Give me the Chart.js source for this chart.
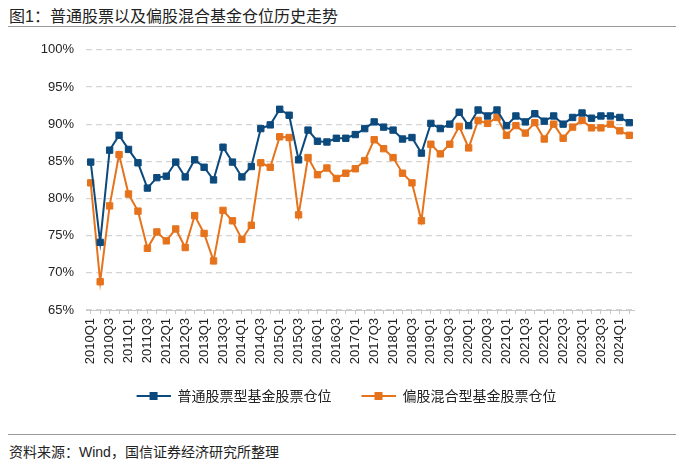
<!DOCTYPE html>
<html>
<head>
<meta charset="utf-8">
<script src="https://cdn.jsdelivr.net/npm/chart.js@4.4.1/dist/chart.umd.min.js"></script>
<style>
  body { margin: 0; background: #fff; width: 684px; height: 464px; position: relative; overflow: hidden;
         font-family: "Liberation Sans", "Noto Sans CJK SC", sans-serif; }
  #title { position: absolute; left: 9px; top: 3px; font-size: 16px; color: #222;
           font-family: "Liberation Sans", "Noto Sans CJK SC", sans-serif; }
  #topline { position: absolute; left: 8px; right: 8px; top: 26px; border-top: 1px solid #999; }
  #chartBox { position: absolute; left: 0; top: 30px; width: 684px; height: 383px; }
  #botline { position: absolute; left: 8px; right: 8px; top: 434px; border-top: 1px solid #999; }
  #source { position: absolute; left: 9px; top: 441px; font-size: 14px; color: #222; }
</style>
</head>
<body>
<div id="title">图1：普通股票以及偏股混合基金仓位历史走势</div>
<div id="topline"></div>
<div id="chartBox"><canvas id="myChart"></canvas></div>
<div id="botline"></div>
<div id="source">资料来源：Wind，国信证券经济研究所整理</div>
<script>
// quarters 2010Q1 .. 2024Q2
const quarters = [];
for (let y = 2010; y <= 2024; y++) {
    for (let q = 1; q <= 4; q++) {
        if (y === 2024 && q > 2) break;
        quarters.push(y + 'Q' + q);
    }
}

// 普通股票型基金股票仓位 (%)
const stockFund = [
    84.9, 74.1, 86.5, 88.5,
    86.6, 84.8, 81.4, 82.8,
    83.0, 84.9, 82.9, 85.2,
    84.2, 82.5, 86.9, 84.9,
    82.9, 84.3, 89.4, 89.9,
    92.0, 91.2, 85.2, 89.2,
    87.7, 87.6, 88.1, 88.1,
    88.6, 89.4, 90.3, 89.6,
    89.2, 88.0, 88.2, 86.1,
    90.1, 89.4, 90.0, 91.6,
    89.8, 91.9, 91.1, 91.9,
    89.8, 91.1, 90.3, 91.4,
    90.4, 91.1, 90.0, 90.9,
    91.5, 90.8, 91.1, 91.1,
    90.9, 90.2
];

// 偏股混合型基金股票仓位 (%)
const mixedFund = [
    82.1, 68.8, 79.0, 85.9,
    80.6, 78.3, 73.3, 75.5,
    74.3, 75.9, 73.4, 77.7,
    75.3, 71.6, 78.4, 77.0,
    74.5, 76.4, 84.8, 84.2,
    88.3, 88.2, 77.8, 85.5,
    83.2, 84.1, 82.7, 83.4,
    84.0, 85.1, 87.9, 86.7,
    85.5, 83.4, 82.1, 77.0,
    87.3, 86.0, 87.3, 89.7,
    86.8, 90.5, 90.1, 90.9,
    88.5, 89.8, 88.8, 90.2,
    88.0, 90.0, 88.1, 89.6,
    90.5, 89.5, 89.5, 90.0,
    89.1, 88.5
];

const seriesNames = ['普通股票型基金股票仓位', '偏股混合型基金股票仓位'];
const seriesColors = ['#0c4a7d', '#e6731c'];

// legend marker: short line with a square in the middle (9px blank on the left as spacing)
function legendMarker(color) {
    const c = document.createElement('canvas');
    c.width = 43; c.height = 10;
    const g = c.getContext('2d');
    g.strokeStyle = color;
    g.lineWidth = 2;
    g.beginPath(); g.moveTo(9, 5); g.lineTo(43, 5); g.stroke();
    g.fillStyle = color;
    g.fillRect(22, 1, 8, 8);
    return c;
}

// center the legend on the whole canvas, not just the padded area
const centerLegend = {
    id: 'centerLegend',
    afterLayout(chart) {
        const lg = chart.legend;
        lg.left = 0;
        lg.right = chart.width;
        lg.width = chart.width;
        lg.adjustHitBoxes();
    }
};

const ctx = document.getElementById('myChart').getContext('2d');

new Chart(ctx, {
    type: 'line',
    data: {
        labels: quarters,
        datasets: [stockFund, mixedFund].map((d, i) => ({
            label: seriesNames[i],
            data: d,
            borderColor: seriesColors[i],
            backgroundColor: seriesColors[i],
            borderWidth: 2,
            pointStyle: 'rect',
            pointRadius: 4.5,
            pointBorderWidth: 1,
            tension: 0
        }))
    },
    options: {
        responsive: true,
        maintainAspectRatio: false,
        animation: false,
        layout: { padding: { top: 18, right: 50, left: 0, bottom: 0 } },
        plugins: {
            legend: {
                position: 'bottom',
                labels: {
                    usePointStyle: true,
                    pointStyleWidth: 43,
                    padding: 21,
                    color: '#222',
                    font: { size: 14, family: '"Noto Sans CJK SC", sans-serif' },
                    generateLabels: chart => chart.data.datasets.map((ds, i) => ({
                        text: ds.label,
                        pointStyle: legendMarker(seriesColors[i]),
                        fillStyle: seriesColors[i],
                        strokeStyle: seriesColors[i],
                        lineWidth: 0,
                        datasetIndex: i,
                        fontColor: '#222'
                    }))
                }
            },
            tooltip: { enabled: false }
        },
        scales: {
            x: {
                offset: true,
                grid: { drawOnChartArea: false, drawTicks: true, tickLength: 4, color: '#c8c8c8' },
                border: { color: '#c8c8c8' },
                ticks: {
                    autoSkip: false,
                    minRotation: 90,
                    maxRotation: 90,
                    padding: 4,
                    color: '#222',
                    font: { size: 13, family: '"Liberation Sans", Arial, sans-serif' },
                    callback: function (v, i) { return i % 2 === 0 ? this.getLabelForValue(v) : ''; }
                },
                afterFit: s => { s.height = 58; }
            },
            y: {
                min: 65,
                max: 100,
                ticks: {
                    stepSize: 5,
                    padding: 12,
                    color: '#222',
                    font: { size: 13, family: '"Liberation Sans", Arial, sans-serif' },
                    callback: v => v + '%'
                },
                grid: { color: '#d4d4d4', drawTicks: false, lineWidth: 1.2 },
                border: { display: true, width: 0, color: 'rgba(0,0,0,0)', dash: [6, 4] },
                afterFit: s => { s.width = 86; }
            }
        }
    },
    plugins: [centerLegend]
});
</script>
</body>
</html>
